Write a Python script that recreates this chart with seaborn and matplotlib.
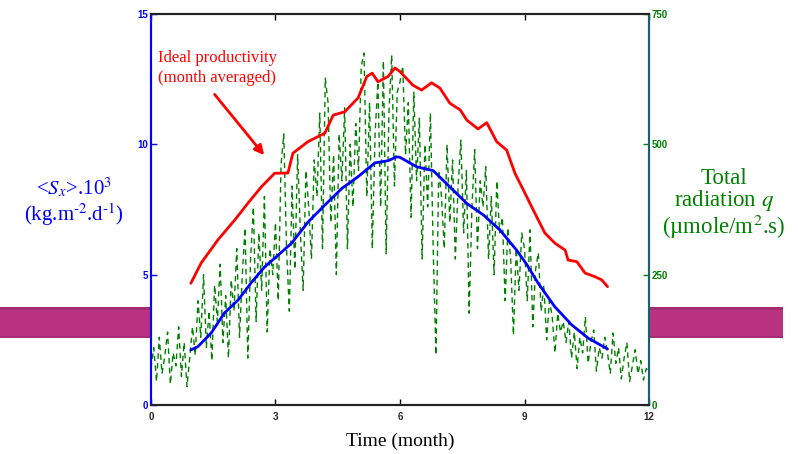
import matplotlib
matplotlib.use("Agg")
import matplotlib.pyplot as plt
import matplotlib.patches as mpatches
import numpy as np
import pandas as pd
import seaborn as sns

# ---------------- data ----------------
red_month = [0.96, 1.21, 1.61, 2.02, 2.34, 2.66, 2.98, 3.30, 3.42, 3.78, 4.19, 4.39,
             4.67, 4.99, 5.20, 5.33, 5.47, 5.71, 5.88, 6.00, 6.31, 6.52, 6.76, 6.96,
             7.20, 7.45, 7.61, 7.88, 8.09, 8.33, 8.57, 8.77, 9.05, 9.17, 9.49, 9.73,
             9.98, 10.05, 10.26, 10.46, 10.70, 10.86, 11.00]
red_value = [4.67, 5.45, 6.33, 7.10, 7.75, 8.37, 8.89, 8.90, 9.66, 10.10, 10.43, 11.12,
             11.25, 11.78, 12.60, 12.73, 12.40, 12.60, 12.93, 12.79, 12.27, 12.08, 12.36, 12.16,
             11.58, 11.32, 10.93, 10.59, 10.83, 10.10, 9.78, 8.89, 8.00, 7.61, 6.60, 6.21,
             5.94, 5.56, 5.50, 5.06, 4.92, 4.80, 4.54]

blue_month = [0.96, 1.13, 1.45, 1.77, 2.10, 2.41, 2.74, 3.00, 3.39, 3.79, 4.19, 4.60,
              4.99, 5.40, 5.71, 5.92, 6.00, 6.40, 6.80, 7.20, 7.61, 8.01, 8.41, 8.81,
              9.05, 9.33, 9.73, 10.14, 10.54, 11.00]
blue_value = [2.11, 2.24, 2.76, 3.53, 4.03, 4.68, 5.30, 5.66, 6.21, 7.03, 7.67, 8.31,
              8.76, 9.29, 9.37, 9.52, 9.50, 9.14, 8.99, 8.37, 7.73, 7.29, 6.71, 5.94,
              5.40, 4.67, 3.77, 3.07, 2.56, 2.15]

green_value = [
    70, 110, 45, 130, 60, 95, 140, 40, 100, 75, 150, 55, 120, 35, 90,
    150, 95, 200, 130, 250, 110, 180, 85, 230, 160, 270, 120, 210, 90, 240,
    180, 300, 130, 250, 340, 90, 280, 380, 160, 330, 220, 400, 140, 300, 250,
    350, 200, 460, 520, 300, 180, 420, 260, 480, 330, 220, 450, 380, 280, 470,
    400, 560, 300, 627, 580, 350, 480, 250, 520, 430, 570, 300, 500, 380, 540,
    450, 650, 675, 400, 580, 300, 520, 620, 380, 660, 290, 560, 671, 420, 600,
    620, 650, 480, 580, 360, 600, 430, 550, 280, 500, 380, 560, 300, 96, 450,
    400, 300, 500, 350, 470, 280, 420, 508, 330, 450, 176, 380, 490, 300, 430,
    380, 457, 280, 400, 250, 430, 330, 360, 200, 340, 280, 134, 300, 220, 330,
    300, 200, 336, 150, 260, 292, 180, 230, 125, 200, 170, 100, 176, 140, 160,
    120, 160, 90, 140, 70, 130, 100, 169, 80, 120, 144, 65, 110, 90, 130,
    100, 60, 138, 80, 110, 50, 90, 120, 45, 75, 106, 60, 85, 48, 70,
    65]
green_month = list(np.linspace(0, 12, len(green_value)))

x_ticks = [0, 3, 6, 9, 12]
left_ticks = [0, 5, 10, 15]
right_ticks = [0, 250, 500, 750]

# ---------------- style ----------------
sns.set_style("white")
plt.rcParams['font.family'] = ['Liberation Serif', 'DejaVu Serif']
plt.rcParams['mathtext.fontset'] = 'stix'

BLUE = '#0000ff'
GREEN = '#008000'
RED = '#ff0000'

fig = plt.figure(figsize=(7.98, 4.54), dpi=100)
fig.patch.set_facecolor('white')

# magenta band behind the axes
for (y0, h, c) in [(0.255, 0.069, '#b8327f'), (0.317, 0.007, '#a52c72'),
                   (0.255, 0.006, '#a52c72')]:
    r = mpatches.Rectangle((0, y0), 0.981, h, transform=fig.transFigure,
                           facecolor=c, edgecolor='none', zorder=-10)
    fig.add_artist(r)

ax2 = fig.add_axes([0.1892, 0.1079, 0.6241, 0.8613])
ax2.set_zorder(1)
ax = ax2.twinx()
ax.yaxis.tick_left()
ax.yaxis.set_label_position('left')
ax2.yaxis.tick_right()
ax2.yaxis.set_label_position('right')
ax.set_zorder(2)
ax.patch.set_visible(False)
ax2.set_facecolor('white')

gdf = pd.DataFrame({'month': green_month, 'q': green_value})
sns.lineplot(data=gdf, x='month', y='q', ax=ax2, color=GREEN, lw=1.0,
             linestyle=(0, (4, 3)), estimator=None, sort=False)

rdf = pd.DataFrame({'month': red_month, 'v': red_value})
bdf = pd.DataFrame({'month': blue_month, 'v': blue_value})
sns.lineplot(data=rdf, x='month', y='v', ax=ax, color=RED, lw=2.0,
             estimator=None, sort=False)
sns.lineplot(data=bdf, x='month', y='v', ax=ax, color=BLUE, lw=2.0,
             estimator=None, sort=False)

ax.set_xlim(0, 12)
ax.set_ylim(0, 15)
ax2.set_xlim(0, 12)
ax2.set_ylim(0, 750)
for a in (ax, ax2):
    a.set_xlabel('')
    a.set_ylabel('')

tickfont = dict(family='Liberation Sans', weight='bold', size=7)
ax2.set_xticks(x_ticks)
ax2.set_xticklabels([str(t) for t in x_ticks], **tickfont)
ax.set_xticks(x_ticks)
ax.set_yticks(left_ticks)
ax.set_yticklabels([str(t) for t in left_ticks], color=BLUE, **tickfont)
ax2.set_yticks(right_ticks)
ax2.set_yticklabels([str(t) for t in right_ticks], color=GREEN, **tickfont)

ax2.tick_params(axis='x', direction='in', top=True, bottom=True, length=4,
                width=1, color='black', pad=5)
ax.tick_params(axis='x', which='both', bottom=False, top=False, labelbottom=False)
ax.tick_params(axis='y', direction='in', length=4, width=1, color=BLUE, pad=2,
               left=True, right=False)
ax2.tick_params(axis='y', direction='in', length=4, width=1, color=GREEN, pad=2,
                right=True, left=False)

for a in (ax, ax2):
    for s in a.spines.values():
        s.set_linewidth(1.5)
    a.spines['top'].set_color('#222222')
    a.spines['bottom'].set_color('#222222')
    a.spines['left'].set_color(BLUE)
    a.spines['right'].set_color('#1d5e6b')
    a.grid(False)

# annotation
ax.text(0.17, 13.62, 'Ideal productivity\n(month averaged)', color=RED,
        fontsize=12, ha='left', va='top', linespacing=1.3)
ax.annotate('', xy=(2.77, 9.5), xytext=(1.49, 12.0),
            arrowprops=dict(arrowstyle='-|>', color=RED, lw=2,
                            mutation_scale=14))

# axis labels as figure texts
fig.text(0.093, 0.555, '<$S_x$>.10$^3$\n(kg.m$^{\u2010 2}$.d$^{\u2010 1}$)', color=BLUE,
         fontsize=15, ha='center', va='center', linespacing=1.05)
fig.text(0.907, 0.55, 'Total\nradiation $q$\n(\u00b5mole/m$^2$.s)', color=GREEN,
         fontsize=16.5, ha='center', va='center', linespacing=0.98)
fig.text(0.501, 0.028, 'Time (month)', color='black', fontsize=14,
         ha='center', va='center')

fig.savefig('out.png', dpi=100)
